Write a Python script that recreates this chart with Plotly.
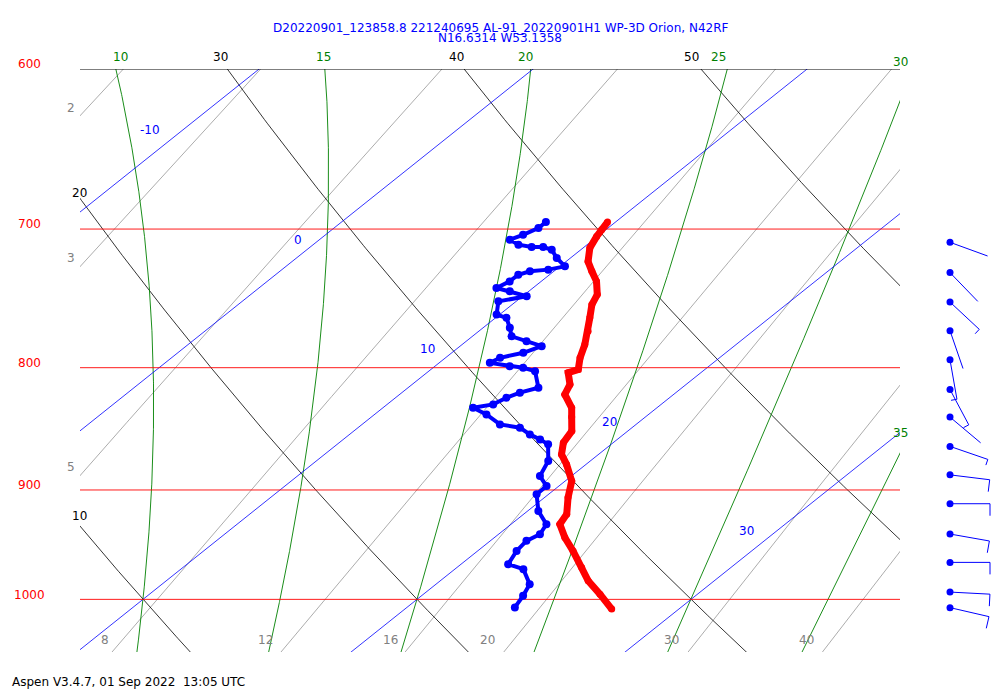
import numpy as np
import plotly.graph_objects as go

# sounding (pressure hPa, temperature C)
temp_p = [695.3, 700.4, 705.0, 712.9, 722.2, 729.1, 736.2, 745.6, 752.8, 762.5, 772.4, 782.4, 792.4,
          801.4, 803.9, 813.0, 820.9, 831.5, 838.9, 850.4, 859.9, 869.7, 878.1, 892.3, 906.6, 921.2,
          930.2, 942.2, 954.4, 969.7, 982.3, 995.0, 1009.4]
temp_t = [9.71, 9.84, 9.97, 10.25, 10.80, 11.39, 12.02, 12.65, 12.91, 13.44, 13.99, 14.48, 14.91,
          15.38, 15.16, 15.76, 16.03, 16.89, 17.31, 17.96, 18.18, 18.65, 19.29, 20.24, 20.86, 21.57,
          21.78, 22.57, 23.48, 24.55, 25.40, 26.44, 27.55]
dew_p = [695.3, 699.3, 703.9, 707.2, 710.6, 712.2, 712.2, 714.1, 719.8, 725.6, 727.9, 729.1, 731.5,
         736.2, 740.9, 743.3, 746.8, 750.5, 760.1, 762.5, 769.9, 776.2, 779.9, 783.6, 788.6, 792.4,
         796.3, 798.9, 800.1, 802.7, 815.6, 819.5, 823.5, 828.8, 831.5, 836.8, 844.9, 847.6, 853.1,
         857.2, 861.3, 875.3, 888.0, 896.6, 903.7, 918.4, 930.2, 939.2, 945.2, 954.4, 966.7, 971.3,
         985.5, 996.6, 1007.8]
dew_t = [7.46, 7.46, 7.21, 6.95, 7.49, 8.08, 8.50, 8.94, 9.50, 10.18, 9.72, 9.13, 8.86,
         8.85, 8.67, 9.31, 10.15, 9.35, 9.89, 10.40, 10.98, 11.43, 12.20, 12.98, 12.61, 11.99,
         11.85, 12.73, 13.29, 13.88, 14.76, 14.31, 14.05, 13.87, 13.29, 14.08, 15.03, 15.91, 16.58,
         17.18, 17.70, 18.47, 18.85, 19.55, 19.56, 20.39, 21.29, 21.51, 21.32, 21.42, 21.72, 22.50,
         23.42, 23.71, 23.94]

# winds (direction deg, speed kt)
wind_p = [709, 730, 751, 772, 794, 817, 839, 863, 887, 912, 939, 965, 993, 1008]
wind_dir = [110, 136, 133, 161, 170, 152, 130, 109, 97, 90, 100, 90, 93, 103]
wind_spd = [3, 3, 5, 3, 5, 5, 3, 5, 10, 10, 10, 10, 10, 10]

isobars = [700, 800, 900, 1000]
isotherms = [-10, 0, 10, 20, 30]
dry_thetas = [0, 10, 20, 30, 40, 50, 60]
moist_thetas = [10, 15, 20, 25, 30, 35]
mix_ratios = [2, 3, 5, 8, 12, 16, 20, 30, 40]

P_TOP, P_BOT = 600, 1052
SKEW = 47.45
FONT = "DejaVu Sans"
X0, X1 = 10 + (80 - 143) / 27.4, 10 + (900 - 143) / 27.4


def skew(t, p):
    return np.asarray(t) + SKEW * np.log(1000.0 / np.asarray(p))


def es(tc):
    return 6.112 * np.exp(17.67 * tc / (tc + 243.5))


def moist_line(tw):
    Rd, cp, Lv, eps = 287.04, 1005.7, 2.501e6, 0.622
    out = {}
    for dp in (-1.0, 1.0):
        T, p = tw + 273.15, 1000.0
        while P_TOP - 10 <= p <= P_BOT + 10:
            out[p] = T - 273.15
            e = es(T - 273.15)
            rs = eps * e / (p - e)
            dT = (Rd * T + Lv * rs) / (cp + Lv * Lv * rs * eps / (Rd * T * T)) / p
            T += dT * dp
            p += dp
    ps = np.array(sorted(out))
    return ps, np.array([out[k] for k in ps])


fig = go.Figure()
pp = np.linspace(P_TOP - 5, P_BOT + 5, 200)


def guide(x, y, color, width=0.8):
    fig.add_trace(go.Scatter(x=x, y=y, mode="lines", line=dict(color=color, width=width),
                             hoverinfo="skip", showlegend=False))


for w in mix_ratios:
    e = w * pp / (622.0 + w)
    le = np.log(e / 6.112)
    t = 243.5 * le / (17.67 - le)
    guide(skew(t, pp), pp, "#888888", 0.7)

for th in dry_thetas:
    t = (th + 273.15) * (pp / 1000.0) ** 0.2857 - 273.15
    guide(skew(t, pp), pp, "black", 0.8)

for tw in moist_thetas:
    ps, ts = moist_line(tw)
    guide(skew(ts, ps), ps, "green", 0.9)

for t0 in isotherms:
    guide(skew(np.full_like(pp, t0), pp), pp, "blue", 0.8)

for p0 in isobars:
    guide([X0, X1], [p0, p0], "red", 0.9)
guide([X0, X1], [600, 600], "black", 1.2)

fig.add_trace(go.Scatter(x=skew(dew_t, dew_p), y=dew_p, mode="lines+markers",
                         line=dict(color="blue", width=4), marker=dict(color="blue", size=8),
                         showlegend=False))
fig.add_trace(go.Scatter(x=skew(temp_t, temp_p), y=temp_p, mode="lines+markers",
                         line=dict(color="red", width=7), marker=dict(color="red", size=7),
                         showlegend=False))

# wind barbs in a narrow side panel, x in pixels
PX_PER_DEC = 583 / np.log10(P_BOT / P_TOP)
for p, d, s in zip(wind_p, wind_dir, wind_spd):
    r = np.radians(d)
    ux, uy = np.sin(r), -np.cos(r)
    ex, ey = 950 + 40 * ux, 40 * uy
    xs, ys = [950, ex], [0, ey]
    if s >= 5:
        L = 12 if s >= 10 else 6
        xs.append(ex - uy * L)
        ys.append(ey + ux * L)
    fig.add_trace(go.Scatter(x=xs, y=[p * 10 ** (v / PX_PER_DEC) for v in ys], mode="lines",
                             line=dict(color="blue", width=1), xaxis="x2", yaxis="y2",
                             showlegend=False, hoverinfo="skip"))
fig.add_trace(go.Scatter(x=[950] * len(wind_p), y=wind_p, mode="markers",
                         marker=dict(color="blue", size=7), xaxis="x2", yaxis="y2",
                         showlegend=False))


def label(px, py, text, color, size=12, anchor="center"):
    # page has an 8px body margin, so shift everything up/left by 8
    fig.add_annotation(x=(px - 8) / 1000, y=(652 - py) / 583, xref="paper", yref="paper",
                       xanchor=anchor, yanchor="middle",
                       text=text, showarrow=False, font=dict(color=color, size=size, family=FONT))


for py, t in [(64, "600"), (224, "700"), (363, "800"), (485, "900"), (595, "1000")]:
    label(29, py, t, "red")
for px, py, t in [(220, 57, "30"), (456, 57, "40"), (691, 57, "50"), (79, 193, "20"), (79, 516, "10")]:
    label(px, py, t, "black")
for px, py, t in [(120, 57, "10"), (323, 57, "15"), (525, 57, "20"), (718, 57, "25"),
                  (900, 62, "30"), (900, 433, "35")]:
    label(px, py, t, "green")
for px, py, t in [(150, 130, "-10"), (298, 240, "0"), (427, 349, "10"), (609, 422, "20"),
                  (746, 531, "30")]:
    label(px, py, t, "blue")
for px, py, t in [(71, 108, "2"), (71, 258, "3"), (71, 467, "5"), (105, 640, "8"), (265, 640, "12"),
                  (390, 640, "16"), (487, 640, "20"), (671, 640, "30"), (806, 640, "40")]:
    label(px, py, t, "gray")
label(500, 28, "D20220901_123858.8 221240695 AL-91_20220901H1 WP-3D Orion, N42RF", "blue")
label(500, 38, "N16.6314 W53.1358", "blue")
label(10, 682, "Aspen V3.4.7, 01 Sep 2022  13:05 UTC", "black", anchor="left")

yr = [np.log10(P_BOT), np.log10(P_TOP)]
fig.update_layout(
    width=1000, height=700, margin=dict(l=0, r=0, t=61, b=56),
    paper_bgcolor="white", plot_bgcolor="white", showlegend=False,
    xaxis=dict(domain=[0.072, 0.892], range=[X0, X1], visible=False),
    yaxis=dict(type="log", range=yr, visible=False),
    xaxis2=dict(domain=[0.922, 0.992], range=[930, 1000], visible=False, anchor="y2"),
    yaxis2=dict(type="log", range=yr, visible=False, anchor="x2"),
)

fig.write_html("out.html")
